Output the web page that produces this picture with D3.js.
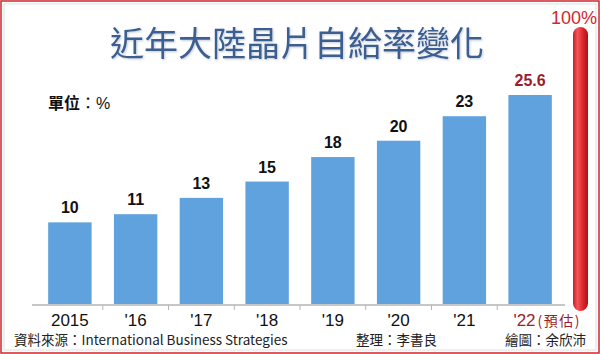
<!DOCTYPE html>
<html>
<head>
<meta charset="utf-8">
<script src="https://cdn.jsdelivr.net/npm/d3@7"></script>
<style>
  body { margin: 0; background: #fff; }
  svg { display: block; font-family: "Liberation Sans", Arial, sans-serif; }
</style>
</head>
<body>
<svg width="600" height="354"></svg>
<script>
const years = ["2015", "'16", "'17", "'18", "'19", "'20", "'21", "'22"];
const rates = [10, 11, 13, 15, 18, 20, 23, 25.6];
const labels = ["10", "11", "13", "15", "18", "20", "23", "25.6"];
const forecastIdx = 7;

const width = 600;
const height = 354;
const baseY = 304;

const svg = d3.select('svg');

// frame
svg.append('rect')
    .attr('x', 1).attr('y', 1)
    .attr('width', width - 2).attr('height', height - 2)
    .attr('fill', 'none')
    .attr('stroke', '#d0272d')
    .attr('stroke-width', 1.5);
svg.append('rect')
    .attr('x', 4).attr('y', 4)
    .attr('width', width - 8).attr('height', height - 8)
    .attr('fill', 'none')
    .attr('stroke', '#d8d8d8')
    .attr('stroke-width', 0.8);

const defs = svg.append('defs');
const pill = defs.append('linearGradient').attr('id', 'pill')
    .attr('x1', '0%').attr('x2', '100%');
pill.append('stop').attr('offset', '0%').attr('stop-color', '#c81e25');
pill.append('stop').attr('offset', '30%').attr('stop-color', '#f2555a');
pill.append('stop').attr('offset', '65%').attr('stop-color', '#e1262d');
pill.append('stop').attr('offset', '100%').attr('stop-color', '#a8141a');
const shadow = defs.append('filter').attr('id', 'shadow');
shadow.append('feDropShadow')
    .attr('dx', 1).attr('dy', 1).attr('stdDeviation', 0.8)
    .attr('flood-color', '#9aa8bb').attr('flood-opacity', 0.6);

// title
svg.append('text')
    .attr('x', 297).attr('y', 56)
    .attr('text-anchor', 'middle')
    .attr('font-family', '"Noto Sans CJK TC", sans-serif')
    .attr('font-size', 34)
    .attr('fill', '#3b5f91')
    .attr('filter', 'url(#shadow)')
    .text('近年大陸晶片自給率變化');

const unit = svg.append('text')
    .attr('x', 48).attr('y', 109)
    .attr('font-family', '"Noto Sans CJK TC", sans-serif')
    .attr('font-size', 16)
    .attr('fill', '#111');
unit.append('tspan').attr('font-weight', 'bold').text('單位');
unit.append('tspan').text('：');
unit.append('tspan').attr('font-family', '"Liberation Sans", Arial, sans-serif').text('%');

const x = d3.scaleBand()
    .domain(years)
    .range([37, 563])
    .paddingInner(0.34)
    .paddingOuter(0.17);

const y = d3.scaleLinear()
    .domain([0, 25.6])
    .range([baseY, 95]);

// 100% reference pill
svg.append('rect')
    .attr('x', 573).attr('y', 27)
    .attr('width', 15).attr('height', 284)
    .attr('rx', 7.5)
    .attr('fill', 'url(#pill)');
svg.append('text')
    .attr('x', 573).attr('y', 24)
    .attr('text-anchor', 'middle')
    .attr('font-size', 18)
    .attr('fill', '#d0272d')
    .text('100%')
    .attr('x', 574);

svg.append('g')
    .selectAll('rect')
    .data(rates)
    .enter().append('rect')
    .attr('x', (d, i) => x(years[i]))
    .attr('y', d => y(d))
    .attr('width', x.bandwidth())
    .attr('height', d => baseY - y(d))
    .attr('fill', '#5fa2de');

svg.append('g')
    .selectAll('text')
    .data(rates)
    .enter().append('text')
    .attr('x', (d, i) => x(years[i]) + x.bandwidth() / 2)
    .attr('y', d => y(d) - 9)
    .attr('text-anchor', 'middle')
    .attr('font-size', 16)
    .attr('font-weight', 'bold')
    .attr('fill', (d, i) => i === forecastIdx ? '#9b1c2e' : '#111')
    .text((d, i) => labels[i]);

// axis line with ticks between categories
const axis = svg.append('g').attr('transform', `translate(0,${baseY + 1})`);
axis.append('line')
    .attr('x1', 32).attr('x2', 565)
    .attr('stroke', '#b5b5b5').attr('stroke-width', 1.5);
axis.selectAll('.tick')
    .data(years.slice(1))
    .enter().append('line')
    .attr('x1', d => x(d) - x.step() * x.paddingInner() / 2)
    .attr('x2', d => x(d) - x.step() * x.paddingInner() / 2)
    .attr('y1', 0).attr('y2', 5)
    .attr('stroke', '#b5b5b5').attr('stroke-width', 1);

const xl = axis.selectAll('.xl')
    .data(years)
    .enter().append('text')
    .attr('x', d => x(d) + x.bandwidth() / 2)
    .attr('y', 21)
    .attr('text-anchor', 'middle')
    .attr('font-size', 17)
    .attr('fill', (d, i) => i === forecastIdx ? '#9b1c2e' : '#111');
xl.filter((d, i) => i !== forecastIdx).text(d => d);
const fx = xl.filter((d, i) => i === forecastIdx)
    .attr('text-anchor', 'start')
    .attr('x', d => x(d) + 5);
fx.append('tspan').text(d => d);
fx.append('tspan')
    .attr('dx', 2)
    .attr('font-family', '"Noto Sans CJK TC", sans-serif')
    .attr('font-size', 14)
    .attr('letter-spacing', 1.5)
    .text('(預估)');

// footer
const foot = [
    { t: '資料來源：International Business Strategies', x: 14, a: 'start' },
    { t: '整理：李書良', x: 356, a: 'start' },
    { t: '繪圖：余欣沛', x: 586, a: 'end' }
];
svg.append('g')
    .selectAll('text')
    .data(foot)
    .enter().append('text')
    .attr('x', d => d.x)
    .attr('y', 345)
    .attr('text-anchor', d => d.a)
    .attr('font-family', '"Noto Sans CJK TC", sans-serif')
    .attr('font-size', 13.5)
    .attr('fill', '#222')
    .text(d => d.t);
</script>
</body>
</html>
